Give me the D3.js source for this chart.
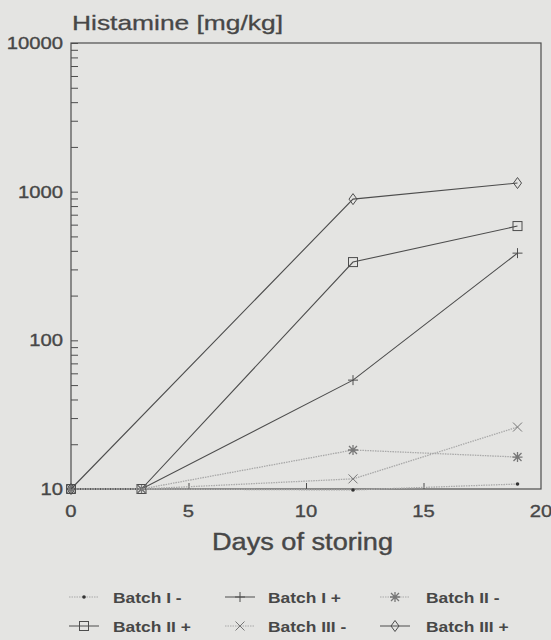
<!DOCTYPE html>
<html>
<head>
<meta charset="utf-8">
<script src="https://cdn.jsdelivr.net/npm/d3@7"></script>
<style>
  body { margin: 0; background: #e4e4e2; }
  svg { display: block; }
  text { font-family: "Liberation Sans", Arial, sans-serif; fill: #474747; }
</style>
</head>
<body>
<div id="chart"></div>
<script>
// Datos
const days = [0, 3, 12, 19];
const batchIminus = [10, 10, 9.85, 10.8];
const batchIplus = [10, 10, 54, 386];
const batchIIminus = [10, 10, 18.3, 16.4];
const batchIIplus = [10, 10, 336, 587];
const batchIIIminus = [10, 10, 11.7, 26.1];
const batchIIIplus = [10, null, 891, 1143];

const seriesNames = ["Batch I -", "Batch I +", "Batch II -", "Batch II +", "Batch III -", "Batch III +"];
const seriesValues = [batchIminus, batchIplus, batchIIminus, batchIIplus, batchIIIminus, batchIIIplus];
const seriesSymbols = ["dot", "plus", "star", "square", "cross", "diamond"];
const seriesDotted = [true, false, true, false, true, false];

const yTicks = [10, 100, 1000, 10000];
const xTicks = [0, 5, 10, 15, 20];

const width = 551, height = 640;
const plot = { left: 71, right: 541, top: 43, bottom: 489 };
const ink = "#4d4d4d";
const lightInk = "#a8a8a8";

const svg = d3.select("#chart").append("svg")
    .attr("width", width)
    .attr("height", height);

const x = d3.scaleLinear().domain([0, 20]).range([plot.left, plot.right]);
const y = d3.scaleLog().domain([10, 10000]).range([plot.bottom, plot.top]);

// estirar texto horizontalmente (tipografía ancha del original)
function stretch(sel, k) {
    sel.each(function() {
        const w = this.getComputedTextLength();
        d3.select(this).attr("textLength", w * k).attr("lengthAdjust", "spacingAndGlyphs");
    });
}

// Marco
svg.append("rect")
    .attr("x", plot.left).attr("y", plot.top)
    .attr("width", plot.right - plot.left).attr("height", plot.bottom - plot.top)
    .attr("fill", "none").attr("stroke", ink).attr("stroke-width", 1.2);

// Eje Y (log, marcas hacia dentro)
const minorTicks = [];
for (let d = 10; d < 10000; d *= 10) {
    for (let m = 2; m <= 9; m++) minorTicks.push(d * m);
}
svg.append("g")
    .attr("transform", `translate(${plot.left},0)`)
    .call(d3.axisRight(y).tickValues(minorTicks.concat(yTicks)).tickSize(7).tickFormat(""))
    .call(g => g.select(".domain").remove())
    .call(g => g.selectAll("line").attr("stroke", ink));

svg.append("g").selectAll("text")
    .data(yTicks)
    .join("text")
    .attr("x", plot.left - 8)
    .attr("y", d => y(d))
    .attr("dy", "0.36em")
    .attr("text-anchor", "end")
    .attr("font-size", 17)
    .attr("stroke", "#474747").attr("stroke-width", 0.35)
    .text(d => d)
    .call(stretch, 1.19);

// Eje X (marcas hacia arriba)
svg.append("g")
    .attr("transform", `translate(0,${plot.bottom})`)
    .call(d3.axisTop(x).tickValues([5, 10, 15]).tickSize(6).tickFormat(""))
    .call(g => g.select(".domain").remove())
    .call(g => g.selectAll("line").attr("stroke", ink));

svg.append("g").selectAll("text")
    .data(xTicks)
    .join("text")
    .attr("x", d => x(d))
    .attr("y", plot.bottom + 28)
    .attr("text-anchor", "middle")
    .attr("font-size", 17)
    .attr("stroke", "#474747").attr("stroke-width", 0.35)
    .text(d => d)
    .call(stretch, 1.19);

// Títulos
svg.append("text")
    .attr("x", 72).attr("y", 30)
    .attr("font-size", 21)
    .attr("stroke", "#474747").attr("stroke-width", 0.3)
    .attr("textLength", 211).attr("lengthAdjust", "spacingAndGlyphs")
    .text("Histamine [mg/kg]");

svg.append("text")
    .attr("x", 212).attr("y", 550)
    .attr("font-size", 23)
    .attr("stroke", "#474747").attr("stroke-width", 0.4)
    .attr("textLength", 181).attr("lengthAdjust", "spacingAndGlyphs")
    .text("Days of storing");

// Símbolos
function drawSymbol(g, type, cx, cy, color) {
    const s = 5;
    if (type === "dot") {
        g.append("circle").attr("cx", cx).attr("cy", cy).attr("r", 1.8).attr("fill", "#333");
    } else if (type === "plus") {
        g.append("path").attr("d", `M${cx - s},${cy}H${cx + s}M${cx},${cy - s}V${cy + s}`)
            .attr("stroke", color).attr("fill", "none");
    } else if (type === "cross") {
        g.append("path").attr("d", `M${cx - 4.5},${cy - 4.5}L${cx + 4.5},${cy + 4.5}M${cx - 4.5},${cy + 4.5}L${cx + 4.5},${cy - 4.5}`)
            .attr("stroke", color).attr("fill", "none");
    } else if (type === "star") {
        g.append("path").attr("d", `M${cx - s},${cy}H${cx + s}M${cx},${cy - s}V${cy + s}M${cx - 4},${cy - 4}L${cx + 4},${cy + 4}M${cx - 4},${cy + 4}L${cx + 4},${cy - 4}`)
            .attr("stroke", color).attr("stroke-width", 1.3).attr("fill", "none");
    } else if (type === "square") {
        g.append("rect").attr("x", cx - 4.5).attr("y", cy - 4.5).attr("width", 9).attr("height", 9)
            .attr("stroke", color).attr("fill", "none");
    } else if (type === "diamond") {
        g.append("path").attr("d", `M${cx},${cy - 5.5}L${cx + 4},${cy}L${cx},${cy + 5.5}L${cx - 4},${cy}Z`)
            .attr("stroke", color).attr("fill", "none");
    }
}

// Series
const line = d3.line()
    .defined(d => d.v != null)
    .x(d => x(d.day))
    .y(d => y(d.v));

seriesValues.forEach((vals, i) => {
    const pts = days.map((day, j) => ({ day, v: vals[j] })).filter(d => d.v != null);
    const color = seriesDotted[i] ? lightInk : ink;
    const g = svg.append("g");
    g.append("path")
        .datum(pts)
        .attr("fill", "none")
        .attr("stroke", color)
        .attr("stroke-width", seriesDotted[i] ? 1.3 : 1.1)
        .attr("stroke-dasharray", seriesDotted[i] ? "1.5,1" : null)
        .attr("d", line);
    pts.forEach(d => drawSymbol(g, seriesSymbols[i], x(d.day), y(d.v), seriesDotted[i] ? "#777" : ink));
});

// Leyenda
const legendCols = [84, 240, 395];
const legendTextX = [113, 268, 426];
const legendRows = [597, 626];
seriesNames.forEach((name, i) => {
    const col = i % 3, row = Math.floor(i / 3);
    const cx = legendCols[col], cy = legendRows[row];
    const color = seriesDotted[i] ? lightInk : ink;
    const g = svg.append("g");
    g.append("line")
        .attr("x1", cx - 15).attr("x2", cx + 15)
        .attr("y1", cy).attr("y2", cy)
        .attr("stroke", color)
        .attr("stroke-dasharray", seriesDotted[i] ? "1.5,1" : null);
    drawSymbol(g, seriesSymbols[i], cx, cy, seriesDotted[i] ? "#777" : ink);
    g.append("text")
        .attr("x", legendTextX[col])
        .attr("y", cy + 6)
        .attr("font-size", 14.5)
        .attr("font-weight", "bold")
        .text(name)
        .call(stretch, 1.2);
});
</script>
</body>
</html>
